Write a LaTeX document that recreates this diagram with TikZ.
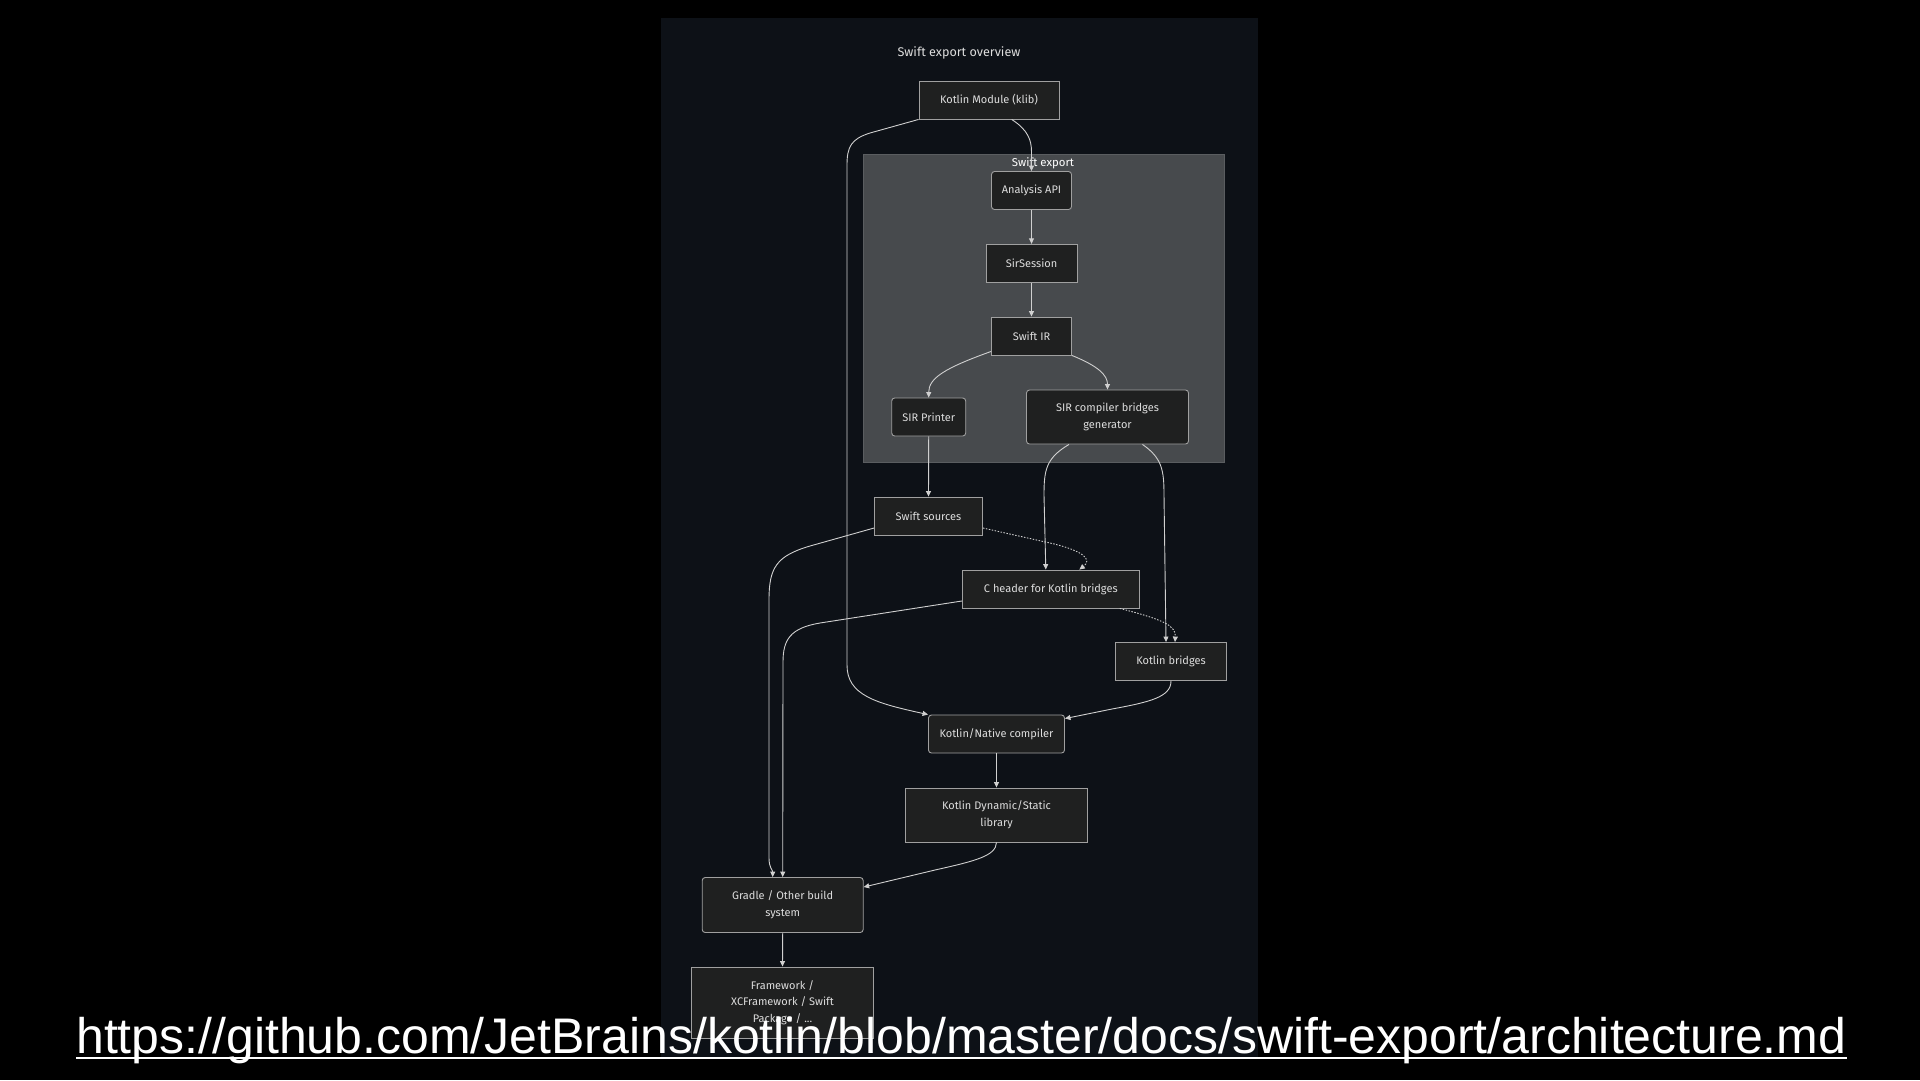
\documentclass[tikz,border=0pt]{standalone}
\usepackage{fontspec}
\setmainfont{Fira Sans}
\newfontfamily\urlfont{Liberation Sans}
\usetikzlibrary{arrows.meta}
\definecolor{panelbg}{HTML}{0D1117}
\definecolor{clusterfill}{HTML}{474A4D}
\definecolor{clusterborder}{HTML}{5A5D60}
\definecolor{nodefill}{HTML}{1F2020}
\definecolor{nodeborder}{HTML}{A0A0A0}
\definecolor{edgecol}{HTML}{D0D0D0}
\definecolor{nodetext}{HTML}{DDDDDD}
\tikzset{
  box/.style={draw=nodeborder, fill=nodefill, line width=0.9pt, inner sep=0pt,
    text=nodetext, font=\fontsize{11}{16.7}\selectfont, align=center},
  rbox/.style={box, rounded corners=3pt},
  edge/.style={draw=edgecol, line width=0.9pt, -{Triangle[length=5.5pt,width=5pt]}},
  dotedge/.style={edge, dash pattern=on 1.5pt off 1.5pt},
}
\begin{document}
\begin{tikzpicture}[x=1pt,y=-1pt]
\useasboundingbox (0,0) rectangle (1920,1080);
\fill[black] (0,0) rectangle (1920,1080);
\fill[panelbg] (661,18) rectangle (1258,1058);

\node[text=nodetext, font=\fontsize{12.6}{15}\selectfont] (title) at (959,53) {Swift export overview};

\node[draw=clusterborder, fill=clusterfill, line width=0.8pt, inner sep=0pt,
      minimum width=361pt, minimum height=308pt] (cl) at (1043.5,308) {};
\node[text=white, font=\fontsize{11.4}{13}\selectfont] (cllabel) at (1043,163) {Swift export};

\node[box,  minimum width=140pt, minimum height=38pt] (km) at (989,100) {Kotlin Module (klib)};
\node[rbox, minimum width=80pt,  minimum height=38pt] (api) at (1031.5,190.5) {Analysis API};
\node[box,  minimum width=91pt,  minimum height=38pt] (sess) at (1031.5,263.3) {SirSession};
\node[box,  minimum width=80pt,  minimum height=38pt] (sir) at (1031.5,336) {Swift IR};
\node[rbox, minimum width=74pt,  minimum height=38pt] (printer) at (928.7,417) {SIR Printer};
\node[rbox, minimum width=162pt, minimum height=54pt] (gen) at (1107.5,417) {SIR compiler bridges\\generator};
\node[box,  minimum width=108pt, minimum height=38pt] (src) at (928.5,516) {Swift sources};
\node[box,  minimum width=177pt, minimum height=38pt] (chdr) at (1050.8,589) {C header for Kotlin bridges};
\node[box,  minimum width=111pt, minimum height=38pt] (kb) at (1171,661.5) {Kotlin bridges};
\node[rbox, minimum width=136pt, minimum height=38pt] (kn) at (996.5,734) {Kotlin/Native compiler};
\node[box,  minimum width=182pt, minimum height=54pt] (lib) at (996.5,815) {Kotlin Dynamic/Static\\library};
\node[rbox, minimum width=161pt, minimum height=55pt] (gradle) at (782.7,905) {Gradle / Other build\\system};
\node[box,  minimum width=182pt, minimum height=71pt] (fw) at (782.5,1002.5) {Framework /\\XCFramework / Swift\\Package / ...};

% edges
\draw[edge] ([xshift=22.7pt]km.south) .. controls (1028,130) and (1031.5,140) .. (1031.5,152) -- (api.north);
\draw[edge] (km.south west) -- (870,133) .. controls (851,139) and (847,147) .. (847,165) -- (847,665)
  .. controls (847,695) and (875,703) .. (kn.north west);
\draw[edge] (api.south) -- (sess.north);
\draw[edge] (sess.south) -- (sir.north);
\draw[edge] ([yshift=4pt]sir.south west) .. controls (945,368) and (928.7,378) .. (printer.north);
\draw[edge] (sir.south east) .. controls (1098,366) and (1107.5,375) .. (gen.north);
\draw[edge] ([xshift=-38.5pt]gen.south) .. controls (1046,458) and (1044,470) .. (1044,495) -- ([xshift=-5pt]chdr.north);
\draw[edge] ([xshift=35pt]gen.south) .. controls (1162,458) and (1164,470) .. (1164,495) -- ([xshift=-5pt]kb.north);
\draw[edge] (printer.south) -- (src.north);
\draw[dotedge] ([yshift=-12pt]src.east) -- (1050,543) .. controls (1085,551) and (1092,560) .. ([xshift=28.5pt]chdr.north);
\draw[dotedge] ([xshift=69pt]chdr.south) .. controls (1165,620) and (1176,626) .. ([xshift=4pt]kb.north);
\draw[edge] ([yshift=-12pt]src.west) -- (810,546) .. controls (776,556) and (769,568) .. (769,600) -- (769,858)
  .. controls (769,868) and (772.7,870) .. ([xshift=-10pt]gradle.north);
\draw[edge] ([yshift=-12pt]chdr.west) -- (820,623) .. controls (790,628) and (783,640) .. (783,662) -- (gradle.north);
\draw[edge] (kb.south) .. controls (1171,697) and (1150,702) .. (1112,709) -- ([yshift=-4pt]kn.north east);
\draw[edge] (kn.south) -- (lib.north);
\draw[edge] (lib.south) .. controls (996,856) and (975,861) .. (935,870) -- ([yshift=-10pt]gradle.north east);
\draw[edge] (gradle.south) -- (fw.north);

% URL
\node[anchor=base west, inner sep=0pt, text=white, font=\urlfont\fontsize{50}{56}\selectfont] (url) at (76,1053)
  {https://github.com/JetBrains/kotlin/blob/master/docs/swift-export/architecture.md};
\draw[white, line width=2.5pt] ([yshift=-5pt]url.base west) -- ([yshift=-5pt]url.base east);
\end{tikzpicture}
\end{document}
